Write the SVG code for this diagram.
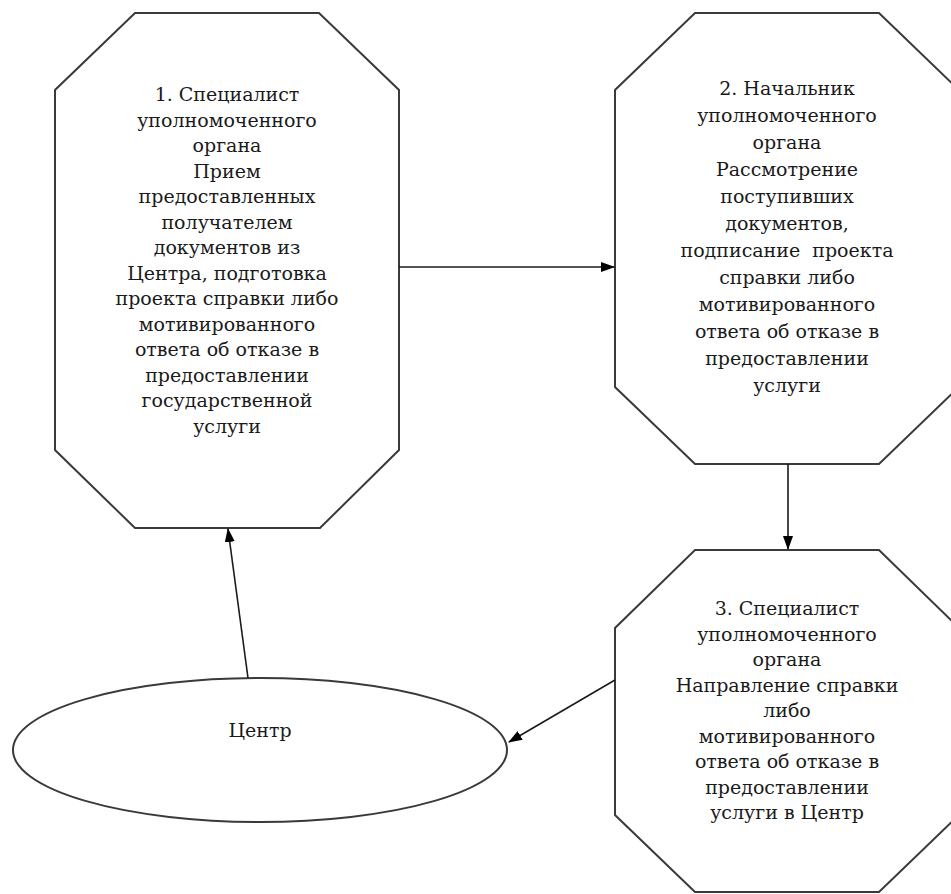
<svg xmlns="http://www.w3.org/2000/svg" width="951" height="894" viewBox="0 0 951 894">
<style>
.shape{fill:#fff;stroke:#3a3a3a;stroke-width:2}
.edge{fill:none;stroke:#1a1a1a;stroke-width:1.6}
.t{font-family:'DejaVu Serif','Liberation Serif',serif;font-size:19px;fill:#1a1a1a;text-anchor:middle}
</style>
<defs>
<marker id="arr" markerWidth="14" markerHeight="10" refX="13" refY="5" orient="auto" markerUnits="userSpaceOnUse">
<path d="M0,0 L14,5 L0,10 Z" fill="#000"/>
</marker>
</defs>
<rect width="951" height="894" fill="#fff"/>
<g id="node1">
<polygon class="shape" points="135,13 319,13 399,90 399,450 320,528 135,528 55,450 55,90"/>
<g class="t">
<text x="227" y="101">1. Специалист</text>
<text x="227" y="126.5">уполномоченного</text>
<text x="227" y="152">органа</text>
<text x="227" y="177.5">Прием</text>
<text x="227" y="203">предоставленных</text>
<text x="227" y="228.5">получателем</text>
<text x="227" y="254">документов из</text>
<text x="227" y="279.5">Центра, подготовка</text>
<text x="227" y="305">проекта справки либо</text>
<text x="227" y="330.5">мотивированного</text>
<text x="227" y="356">ответа об отказе в</text>
<text x="227" y="381.5">предоставлении</text>
<text x="227" y="407">государственной</text>
<text x="227" y="432.5">услуги</text>
</g>
</g>
<g id="node2">
<polygon class="shape" points="695,13 879,13 959,90 959,387 879,464 695,464 615,387 615,90"/>
<g class="t">
<text x="787" y="95">2. Начальник</text>
<text x="787" y="122">уполномоченного</text>
<text x="787" y="149">органа</text>
<text x="787" y="176">Рассмотрение</text>
<text x="787" y="203">поступивших</text>
<text x="787" y="230">документов,</text>
<text x="787" y="257" xml:space="preserve">подписание  проекта</text>
<text x="787" y="284">справки либо</text>
<text x="787" y="311">мотивированного</text>
<text x="787" y="338">ответа об отказе в</text>
<text x="787" y="365">предоставлении</text>
<text x="787" y="392">услуги</text>
</g>
</g>
<g id="node3">
<polygon class="shape" points="695,550 879,550 959,628 959,815 879,892 695,892 615,815 615,628"/>
<g class="t">
<text x="787" y="615">3. Специалист</text>
<text x="787" y="640.5">уполномоченного</text>
<text x="787" y="666">органа</text>
<text x="787" y="691.5">Направление справки</text>
<text x="787" y="717">либо</text>
<text x="787" y="742.5">мотивированного</text>
<text x="787" y="768">ответа об отказе в</text>
<text x="787" y="793.5">предоставлении</text>
<text x="787" y="819">услуги в Центр</text>
</g>
</g>
<g id="center">
<ellipse class="shape" cx="260" cy="750" rx="247" ry="72"/>
<text class="t" x="260" y="737">Центр</text>
</g>
<g id="connectors">
<line class="edge" x1="399" y1="267" x2="614" y2="267" marker-end="url(#arr)"/>
<line class="edge" x1="788" y1="464" x2="788" y2="549" marker-end="url(#arr)"/>
<line class="edge" x1="615" y1="680" x2="509" y2="742" marker-end="url(#arr)"/>
<line class="edge" x1="248" y1="678" x2="228" y2="529" marker-end="url(#arr)"/>
</g>
</svg>
